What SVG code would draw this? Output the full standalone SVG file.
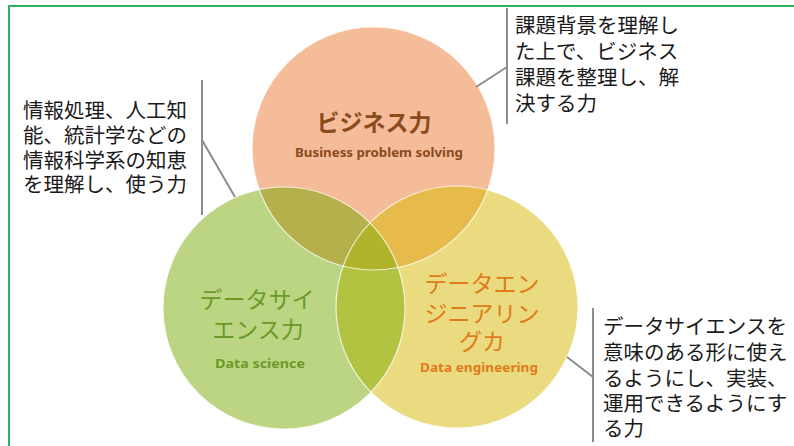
<svg xmlns="http://www.w3.org/2000/svg" width="794" height="446" viewBox="0 0 794 446">
<style>
.note{font-family:"Noto Sans CJK JP","Noto Sans",sans-serif;font-size:20.5px;fill:#1a1a1a}
.ttl{font-family:"Noto Sans CJK JP","Noto Sans",sans-serif;font-size:23px;text-anchor:middle}
.sub{font-family:"Noto Sans","DejaVu Sans",sans-serif;font-weight:bold;font-size:12.5px;text-anchor:middle}
.edge{fill:none;stroke:#fff;stroke-width:1.2;stroke-opacity:0.75}
.lead{stroke:#8c8c8c;stroke-width:2;fill:none}
</style>
<defs>
<clipPath id="cO"><circle cx="373.5" cy="148.5" r="121.5"/></clipPath>
<clipPath id="cG"><circle cx="284" cy="308" r="121"/></clipPath>
</defs>
<rect width="794" height="446" fill="#fff"/>
<path d="M9,446 V6 H794" fill="none" stroke="#2db35a" stroke-width="2"/>
<g id="venn">
<g id="node-business"><circle cx="373.5" cy="148.5" r="121.5" fill="#f4bc98"/></g>
<g id="node-science"><circle cx="284" cy="308" r="121" fill="#bcd583"/></g>
<g id="node-engineering"><circle cx="457" cy="307" r="121" fill="#ebdb80"/></g>
<g clip-path="url(#cO)"><circle cx="284" cy="308" r="121" fill="#b5b04c"/><circle cx="457" cy="307" r="121" fill="#e6ba4b"/></g>
<g clip-path="url(#cG)"><circle cx="457" cy="307" r="121" fill="#b2c241"/></g>
<g clip-path="url(#cO)"><g clip-path="url(#cG)"><circle cx="457" cy="307" r="121" fill="#afb42b"/></g></g>
<circle class="edge" cx="373.5" cy="148.5" r="121.5"/>
<circle class="edge" cx="284" cy="308" r="121"/>
<circle class="edge" cx="457" cy="307" r="121"/>
</g>
<g id="labels">
<text class="ttl" x="374" y="131" font-weight="bold" fill="#8b4a1c">ビジネス力</text>
<text class="sub" x="379" y="157" fill="#8b4a1c" textLength="168" lengthAdjust="spacingAndGlyphs">Business problem solving</text>
<text class="ttl" x="257" y="308" fill="#6c9a28">データサイ</text>
<text class="ttl" x="258" y="338" fill="#6c9a28">エンス力</text>
<text class="sub" x="260" y="368" fill="#6c9a28" textLength="90" lengthAdjust="spacingAndGlyphs">Data science</text>
<text class="ttl" x="482" y="292" fill="#e07b1a">データエン</text>
<text class="ttl" x="482" y="322" fill="#e07b1a">ジニアリン</text>
<text class="ttl" x="482" y="350" fill="#e07b1a">グカ</text>
<text class="sub" x="479" y="372" fill="#e07b1a" textLength="118" lengthAdjust="spacingAndGlyphs">Data engineering</text>
</g>
<g id="connectors">
<path class="lead" d="M507,8 V124 M507,67 L476,87"/>
<path class="lead" d="M202,80 V215 M202,140 L235,197"/>
<path class="lead" d="M593,308 V442 M593,377 L567,357"/>
</g>
<g id="note-business">
<text class="note" x="515" y="33">課題背景を理解し</text>
<text class="note" x="515" y="59">た上で、ビジネス</text>
<text class="note" x="515" y="85">課題を整理し、解</text>
<text class="note" x="515" y="111">決する力</text>
</g>
<g id="note-science">
<text class="note" x="23" y="118">情報処理、人工知</text>
<text class="note" x="23" y="143">能、統計学などの</text>
<text class="note" x="23" y="168">情報科学系の知恵</text>
<text class="note" x="23" y="192">を理解し、使う力</text>
</g>
<g id="note-engineering">
<text class="note" x="603" y="334">データサイエンスを</text>
<text class="note" x="603" y="360">意味のある形に使え</text>
<text class="note" x="603" y="386">るようにし、実装、</text>
<text class="note" x="603" y="411">運用できるようにす</text>
<text class="note" x="603" y="436">る力</text>
</g>
</svg>
